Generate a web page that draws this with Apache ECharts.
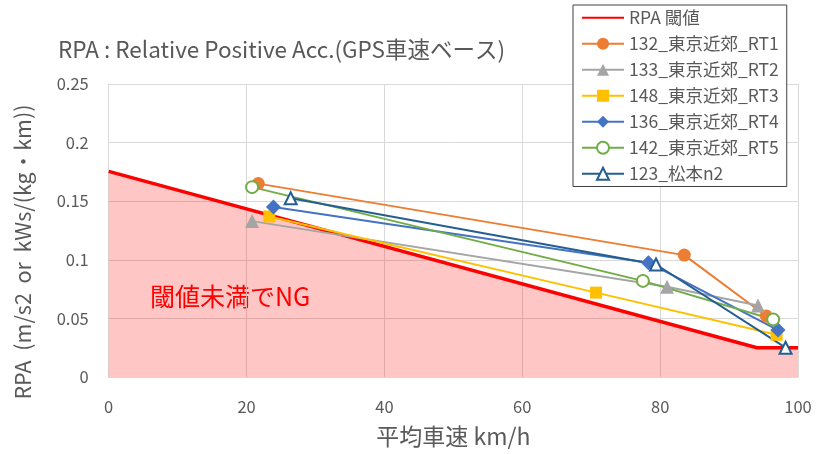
<!DOCTYPE html>
<html><head><meta charset="utf-8">
<script src="https://cdn.jsdelivr.net/npm/echarts@6/dist/echarts.min.js"></script>
<style>html,body{margin:0;padding:0;background:#fff}#c{width:816px;height:454px}</style>
</head><body><div id="c"></div>
<script>
const FONT = '"Noto Sans CJK JP", "Noto Sans", sans-serif';
const seriesNames = ['RPA 閾値','132_東京近郊_RT1','133_東京近郊_RT2','148_東京近郊_RT3','136_東京近郊_RT4','142_東京近郊_RT5','123_松本n2'];
const thresholdData = [[0,0.1755],[94.05,0.025],[100,0.025]];
const rt1 = [[21.7,0.165],[83.5,0.104],[95.4,0.052]];
const rt2 = [[20.8,0.133],[81.0,0.077],[94.2,0.061]];
const rt3 = [[23.3,0.137],[70.7,0.072],[96.9,0.036]];
const rt4 = [[23.9,0.145],[78.3,0.0975],[97.1,0.040]];
const rt5 = [[20.8,0.162],[77.5,0.082],[96.4,0.049]];
const n2  = [[26.4,0.1525],[79.4,0.096],[98.2,0.025]];
const xTicks = [0,20,40,60,80,100];
const yTicks = [0,0.05,0.1,0.15,0.2,0.25];

const chart = echarts.init(document.getElementById('c'), null, {renderer:'canvas'});
function ser(name, data, color, symbol, size, hollow){
  return {name, type:'line', data, symbol, symbolSize:size, showAllSymbol:true,
    lineStyle:{color, width:2}, 
    itemStyle: hollow ? {color:'#fff', borderColor:color, borderWidth:2} : {color, borderColor:color, borderWidth:0},
    emphasis:{disabled:true}, animation:false, z:3};
}
const legendData = seriesNames.map((n,i)=> i===0 ? {name:n, itemStyle:{opacity:0}} : {name:n});
chart.setOption({
  animation:false,
  textStyle:{fontFamily:FONT},
  title:{text:'RPA : Relative Positive Acc.(GPS車速ベース)', left:53, top:33,
    textStyle:{fontFamily:FONT, fontSize:22.5, fontWeight:'normal', color:'#595959'}},
  grid:{left:108.7, right:18, top:84, bottom:77, containLabel:false, outerBoundsMode:'none'},
  legend:{orient:'vertical', left:573, top:5, data:legendData,
    backgroundColor:'#fff', borderColor:'#404040', borderWidth:1, padding:[4,8,4,8],
    itemWidth:42, itemHeight:15, itemGap:8.5,
    textStyle:{fontFamily:FONT, fontSize:17.5, color:'#595959'}},
  xAxis:{type:'value', min:xTicks[0], max:xTicks[xTicks.length-1], interval:20,
    name:'平均車速 km/h', nameLocation:'middle', nameGap:48,
    nameTextStyle:{fontFamily:FONT, fontSize:23, color:'#595959'},
    axisLine:{show:true, lineStyle:{color:'#D9D9D9'}}, axisTick:{show:false},
    axisLabel:{fontFamily:FONT, fontSize:16.5, color:'#595959', margin:21},
    splitLine:{show:true, lineStyle:{color:'#D9D9D9', width:1}}},
  yAxis:{type:'value', min:yTicks[0], max:yTicks[yTicks.length-1], interval:0.05,
    axisLine:{show:true, lineStyle:{color:'#D9D9D9'}}, axisTick:{show:false},
    axisLabel:{fontFamily:FONT, fontSize:16.5, color:'#595959', margin:20},
    splitLine:{show:true, lineStyle:{color:'#D9D9D9', width:1}}},
  series:[
    {name:seriesNames[0], type:'line', data:thresholdData, symbol:'none',
     lineStyle:{color:'#FF0000', width:3.5}, itemStyle:{color:'#FF0000'},
     areaStyle:{color:'rgba(255,0,0,0.32)', origin:'start'}, z:2, emphasis:{disabled:true}},
    ser(seriesNames[1], rt1, '#ED7D31', 'circle', 13, false),
    ser(seriesNames[2], rt2, '#A5A5A5', 'triangle', 14, false),
    ser(seriesNames[3], rt3, '#FFC000', 'rect', 12, false),
    ser(seriesNames[4], rt4, '#4472C4', 'diamond', 15, false),
    ser(seriesNames[5], rt5, '#70AD47', 'circle', 12, true),
    ser(seriesNames[6], n2,  '#255E91', 'triangle', 12, true)
  ],
  graphic:[
    {type:'text', x:150, y:296, style:{text:'閾値未満でNG', fontFamily:FONT, fontSize:25, fill:'#FF0000', textVerticalAlign:'middle'}},
    {type:'text', x:23, y:252, rotation:Math.PI/2, style:{text:'RPA  (m/s2  or  kWs/(kg・km))', fontFamily:FONT, fontSize:21.5, fill:'#595959', textAlign:'center', textVerticalAlign:'middle'}}
  ]
});
</script></body></html>
